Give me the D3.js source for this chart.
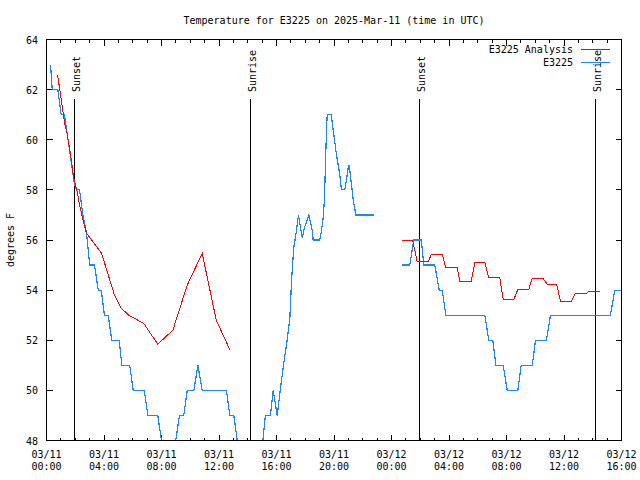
<!DOCTYPE html>
<html>
<head>
<meta charset="utf-8">
<script src="https://cdn.jsdelivr.net/npm/d3@7"></script>
<style>
  html, body { margin: 0; padding: 0; background: #fff; }
  svg { display: block; }
  text { font-family: "DejaVu Sans Mono", "Liberation Mono", monospace; font-size: 10px; fill: #000; }
</style>
</head>
<body>
<svg id="chart" width="640" height="480"></svg>
<script>
// ---------------- data (hours since 2025-03-11 00:00 UTC) ----------------
const titleText = "Temperature for E3225 on 2025-Mar-11 (time in UTC)";
const yLabel = "degrees F";
const seriesNames = ["E3225 Analysis", "E3225"];
const yTicks = [48, 50, 52, 54, 56, 58, 60, 62, 64];

// observed station temperatures (null = data gap)
const obsHours = [0.28,0.40,0.79,1.02,1.25,1.45,1.70,1.95,2.10,2.30,2.53,2.78,3.01,3.34,3.60,3.81,4.03,4.29,4.54,5.06,5.24,5.79,6.03,6.80,7.05,7.74,8.00,8.25,8.75,8.99,9.25,9.55,9.79,10.25,10.53,10.83,12.52,12.75,13.03,13.27,13.50,14.80,15.05,15.23,15.58,15.77,16.05,16.28,16.51,16.74,16.93,17.04,17.20,17.32,17.53,17.67,17.79,17.95,18.25,18.48,18.55,19.01,19.11,19.25,19.34,19.41,19.48,19.53,19.81,19.94,20.06,20.17,20.29,20.40,20.52,20.75,20.87,20.99,21.06,21.15,21.24,21.34,21.43,21.52,22.77,
  23.5,
  24.74,25.27,25.55,26.07,26.25,27.01,27.32,27.53,27.78,30.49,30.77,31.05,31.26,31.77,32.05,32.79,33.02,33.79,34.02,34.78,35.06,39.23,39.53,40.07];
const obsTemps = [63,62,62,61,61,60.2,59.2,58.2,58,58,57.0,56.3,55,55,54,54,53,53,52,52,51,51,50,50,49,49,48,47,47,48,49,49,50,50,51,50,50,49,49,48,47,47,48,49,49,50,49,50.1,51.1,52,52.9,54.3,55.7,56.1,57,56.5,56.1,56.5,57,56.4,56,56,56.3,56.9,57.7,59.1,60.4,61,61,60.4,59.9,59.4,59,58.6,58,58,58.4,58.9,59,58.5,58.1,57.6,57.3,57,57,
  null,
  55,55,56,56,55,55,54,54,53,53,52,52,51,51,50,50,51,51,52,52,53,53,54,54];

// analysis temperatures (null = data gap)
const anaHours = [0.76,0.90,1.05,1.25,1.45,1.65,1.90,2.13,2.30,2.50,2.78,3.41,3.83,4.73,5.16,5.73,6.77,7.74,8.28,8.79,9.79,10.83,11.81,12.75,
  18.0,
  24.74,25.48,25.79,26.55,26.78,27.53,27.76,28.57,28.75,29.54,29.80,30.49,30.77,31.53,31.77,32.51,32.79,33.55,33.79,34.53,34.83,35.48,35.76,36.52,36.80,37.57,37.73,38.49];
const anaTemps = [62.6,62.1,61.5,60.7,60.2,59.5,58.45,57.95,57.4,56.9,56.27,55.8,55.47,53.8,53.3,53.0,52.67,51.84,52.13,52.4,54.2,55.47,52.8,51.63,
  null,
  55.97,55.97,55.13,55.13,55.43,55.43,54.9,54.9,54.36,54.36,55.1,55.1,54.5,54.5,53.63,53.63,54.03,54.03,54.47,54.47,54.24,54.24,53.56,53.56,53.87,53.87,53.96,53.96];

// sun events
const eventNames = ["Sunset", "Sunrise", "Sunset", "Sunrise"];
const eventHours = [1.90, 14.14, 25.93, 38.14];

const colors = ["#ff0000", "#1a86ff"];

// ---------------- drawing ----------------
const base = Date.UTC(2025, 2, 11);
const T = h => new Date(base + h * 3600e3);

const L = 46.5, R = 621.5, TOP = 39.5, BOT = 440.5;
const svg = d3.select("#chart");

const x = d3.scaleUtc().domain([T(0), T(40)]).range([L, R]);
const y = d3.scaleLinear().domain([48, 64]).range([BOT, TOP]);

// title
svg.append("text").attr("x", (L + R) / 2).attr("y", 24).attr("text-anchor", "middle").text(titleText);

// y label
svg.append("text").attr("transform", `translate(13.5,${(TOP + BOT) / 2}) rotate(-90)`)
  .attr("text-anchor", "middle").text(yLabel);

const crisp = g => g.attr("shape-rendering", "crispEdges");

// minor x ticks bottom / top
const hourTicks = d3.utcHour.every(1).range(T(0), T(40.01));
const fourTicks = d3.utcHour.every(4).range(T(0), T(40.01));

svg.append("g").attr("transform", `translate(0,${BOT})`).call(crisp)
  .call(d3.axisBottom(x).tickValues(hourTicks).tickSize(-3).tickFormat("").offset(0))
  .call(g => g.select(".domain").remove());
svg.append("g").attr("transform", `translate(0,${TOP})`).call(crisp)
  .call(d3.axisTop(x).tickValues(hourTicks).tickSize(-3).tickFormat("").offset(0))
  .call(g => g.select(".domain").remove());

// major x ticks
const fmtD = d3.utcFormat("%m/%d"), fmtT = d3.utcFormat("%H:%M");
svg.append("g").attr("transform", `translate(0,${BOT})`).call(crisp)
  .call(d3.axisBottom(x).tickValues(fourTicks).tickSize(-6).tickFormat("").offset(0))
  .call(g => g.select(".domain").remove())
  .call(g => g.selectAll(".tick text").each(function (d) {
    const t = d3.select(this).attr("y", null).attr("dy", null)
      .attr("font-family", null).attr("font-size", null);
    t.append("tspan").attr("x", 0).attr("y", 17.5).text(fmtD(d));
    t.append("tspan").attr("x", 0).attr("y", 29.5).text(fmtT(d));
  }));
svg.append("g").attr("transform", `translate(0,${TOP})`).call(crisp)
  .call(d3.axisTop(x).tickValues(fourTicks).tickSize(-6).tickFormat("").offset(0))
  .call(g => g.select(".domain").remove());

// y axes
svg.append("g").attr("transform", `translate(${L},0)`).call(crisp)
  .call(d3.axisLeft(y).tickValues(yTicks).tickSize(-6).tickPadding(8.5).tickFormat(d3.format("d")).offset(0))
  .call(g => g.select(".domain").remove())
  .call(g => g.selectAll(".tick text").attr("dy", null).attr("y", 4)
    .attr("font-family", null).attr("font-size", null));
svg.append("g").attr("transform", `translate(${R},0)`).call(crisp)
  .call(d3.axisRight(y).tickValues(yTicks).tickSize(-6).tickFormat("").offset(0))
  .call(g => g.select(".domain").remove());

svg.selectAll(".tick line").attr("stroke", "#000");

// clip
svg.append("clipPath").attr("id", "plotclip").append("rect")
  .attr("x", L).attr("y", TOP).attr("width", R - L).attr("height", BOT - TOP);

// sun event lines
eventHours.forEach((h, i) => {
  const xx = Math.round(x(T(h))) + 0.5;
  svg.append("line").attr("x1", xx).attr("x2", xx).attr("y1", 98.5).attr("y2", BOT)
    .attr("stroke", "#000").attr("stroke-width", 1).attr("shape-rendering", "crispEdges");
  svg.append("text").attr("transform", `translate(${xx + 5.5},92) rotate(-90)`)
    .attr("text-anchor", "start").text(eventNames[i]);
});

// series lines
const line = d3.line().defined(d => d[1] != null).x(d => x(T(d[0]))).y(d => y(d[1]));
const anaData = anaHours.map((h, i) => [h, anaTemps[i]]);
const obsData = obsHours.map((h, i) => [h, obsTemps[i]]);

const plot = svg.append("g").attr("clip-path", "url(#plotclip)");
plot.append("path").datum(obsData).attr("d", line).attr("fill", "none")
  .attr("stroke", colors[1]).attr("stroke-width", 1.2).attr("shape-rendering", "crispEdges");
plot.append("path").datum(anaData).attr("d", line).attr("fill", "none")
  .attr("stroke", colors[0]).attr("stroke-width", 1).attr("shape-rendering", "crispEdges");

// border
svg.append("rect").attr("x", L).attr("y", TOP).attr("width", R - L).attr("height", BOT - TOP)
  .attr("fill", "none").attr("stroke", "#000").attr("shape-rendering", "crispEdges");

// legend
seriesNames.forEach((name, i) => {
  const ly = 49.5 + i * 13;
  svg.append("text").attr("x", 573).attr("y", ly + 3.5).attr("text-anchor", "end").text(name);
  svg.append("line").attr("x1", 581).attr("x2", 610).attr("y1", ly).attr("y2", ly)
    .attr("stroke", colors[i]).attr("stroke-width", 1.2).attr("shape-rendering", "crispEdges");
});
</script>
</body>
</html>
